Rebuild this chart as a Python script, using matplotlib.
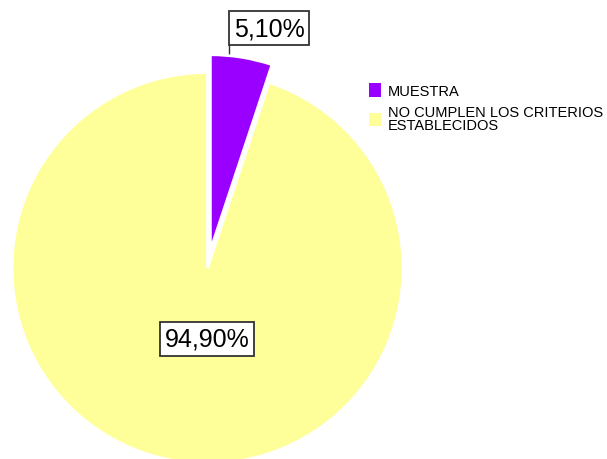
import matplotlib
matplotlib.use("Agg")
import matplotlib.pyplot as plt

categories = ["MUESTRA", "NO CUMPLEN LOS CRITERIOS\nESTABLECIDOS"]
values = [5.10, 94.90]
value_labels = ["5,10%", "94,90%"]
colors = ["#9900FF", "#FFFF99"]

plt.rcParams['font.family'] = ['Liberation Sans', 'DejaVu Sans']

W, H = 607, 460
fig = plt.figure(figsize=(W / 100, H / 100), dpi=100)
ax = fig.add_axes([0, 0, 1, 1])

cx, cy, r = 207.5, H - 269, 195.5
wedges, _ = ax.pie(values, colors=colors, startangle=90, counterclock=False,
                   explode=[18, 0], center=(cx, cy), radius=r,
                   wedgeprops=dict(edgecolor="white", linewidth=2))
ax.set_aspect('auto')
ax.set_xlim(0, W)
ax.set_ylim(0, H)
ax.axis('off')

box = dict(boxstyle="square,pad=0.2", facecolor="white", edgecolor="#333333", linewidth=1.3)
# label for small slice with leader line
ax.plot([228.5, 228.5], [H - 46, H - 57], color="#333333", linewidth=1, zorder=0.5)
ax.text(269, H - 29, value_labels[0], fontsize=18, ha="center", va="center", bbox=box)
ax.text(207, H - 340, value_labels[1], fontsize=18, ha="center", va="center", bbox=box)

leg = ax.legend(wedges, categories, loc="upper left",
                bbox_to_anchor=(369 / W, 1 - 84 / H), frameon=False,
                fontsize=10.5, handlelength=0.85, handleheight=1.05,
                handletextpad=0.45, labelspacing=0.5, borderaxespad=0, borderpad=0)
for t in leg.get_texts():
    t.set_linespacing(0.95)
for h in leg.legend_handles:
    h.set_edgecolor("none")

fig.savefig("out.png", dpi=100)
